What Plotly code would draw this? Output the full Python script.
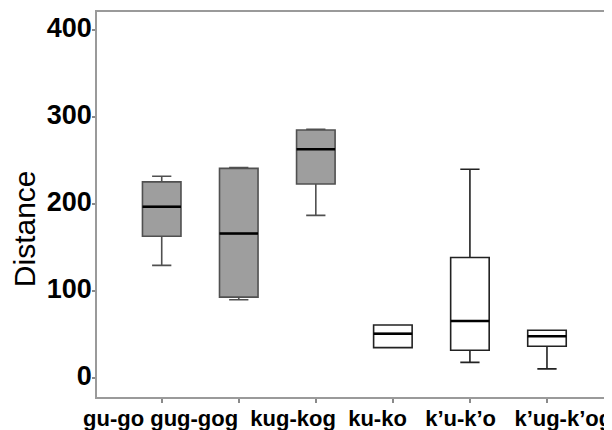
import plotly.graph_objects as go

categories = ["gu-go", "gug-gog", "kug-kog", "ku-ko", "k\u2019u-k\u2019o", "k\u2019ug-k\u2019og"]
lower_fence = [129.5, 90, 187, 35, 18, 10.5]
q1 = [163, 93, 223, 35, 32, 36.5]
median = [197, 166, 263, 51, 65.5, 48]
q3 = [225.5, 241, 285, 61, 138.5, 55]
upper_fence = [232, 242, 286, 61, 240, 55]
fill_colors = ["#9e9e9e", "#9e9e9e", "#9e9e9e", "#ffffff", "#ffffff", "#ffffff"]
line_colors = ["#505050", "#505050", "#505050", "#222222", "#222222", "#222222"]
y_ticks = [0, 100, 200, 300, 400]

fig = go.Figure()
for i, cat in enumerate(categories):
    fig.add_trace(go.Box(
        x=[i], q1=[q1[i]], median=[median[i]], q3=[q3[i]],
        lowerfence=[lower_fence[i]], upperfence=[upper_fence[i]],
        width=0.5, whiskerwidth=0.5,
        fillcolor=fill_colors[i],
        line=dict(color=line_colors[i], width=1.6),
        boxpoints=False, name=cat, hoverinfo="skip",
    ))
    fig.add_trace(go.Scatter(
        x=[i - 0.25, i + 0.25], y=[median[i], median[i]],
        mode="lines", line=dict(color="#000000", width=2.5),
        hoverinfo="skip", showlegend=False,
    ))

label_text = (categories[0] + "\u00a0" + categories[1] + "\u00a0\u00a0" + categories[2] + "\u00a0\u00a0"
              + categories[3] + "\u00a0\u00a0\u00a0" + categories[4] + "\u00a0\u00a0\u00a0" + categories[5])

fig.update_layout(
    width=604, height=422,
    margin=dict(l=89, r=3, t=4, b=33, autoexpand=False),
    paper_bgcolor="white", plot_bgcolor="white",
    showlegend=False,
    font=dict(family="Liberation Sans, Arial, sans-serif", color="black"),
    xaxis=dict(
        range=[-0.84, 5.805], tickvals=list(range(len(categories))),
        showticklabels=False, ticks="outside", ticklen=4, tickcolor="#8a8a8a", tickwidth=1.5,
        showgrid=False, zeroline=False, automargin=False,
        showline=True, linecolor="#9a9a9a", linewidth=1.5, mirror=True,
    ),
    yaxis=dict(
        range=[-21.8, 420.7], tickvals=y_ticks,
        ticks="outside", ticklen=3, tickcolor="#8a8a8a", tickwidth=1.5,
        tickfont=dict(size=27, family="Liberation Sans, Arial, sans-serif", color="black", weight="bold"),
        ticklabelstandoff=-5, ticklabelshift=-2, automargin=False,
        showgrid=False, zeroline=False,
        showline=True, linecolor="#9a9a9a", linewidth=1.5, mirror=True,
    ),
    annotations=[
        dict(text=label_text, xref="paper", yref="paper", x=-0.031, y=0,
             xanchor="left", yanchor="top", yshift=-7, showarrow=False,
             font=dict(size=22, family="Liberation Sans, Arial, sans-serif", color="black", weight="bold")),
        dict(text="Distance", xref="paper", yref="paper", x=-0.141, y=0.438,
             xanchor="center", yanchor="middle", textangle=-90, showarrow=False,
             font=dict(size=30, family="Liberation Sans, Arial, sans-serif", color="black")),
    ],
)

fig.write_html("out.html")
